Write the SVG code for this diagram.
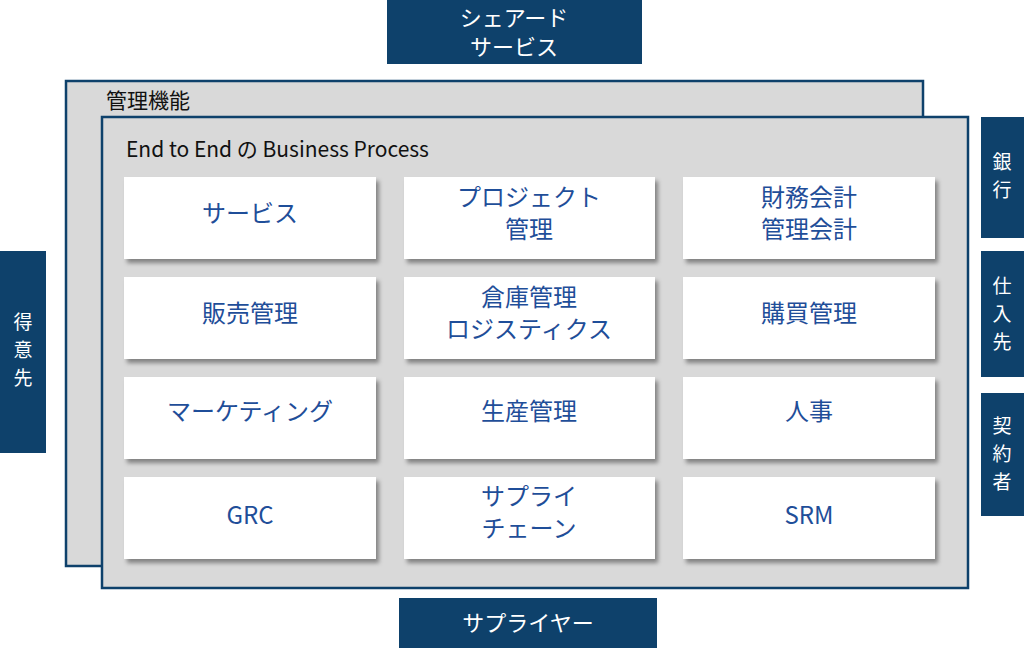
<svg xmlns="http://www.w3.org/2000/svg" width="1024" height="648" viewBox="0 0 1024 648">
<style>
.ext{fill:#0e416b}
.et{fill:#fff;font-family:"Noto Sans CJK JP","Noto Sans",sans-serif;font-size:22px;text-anchor:middle}
.vt{fill:#fff;font-family:"Noto Sans CJK JP","Noto Sans",sans-serif;font-size:19px;text-anchor:middle}
.frame{fill:#d9d9d9;stroke:#0e416b;stroke-width:2.5}
.lbl{fill:#111;font-family:"Noto Sans CJK JP","Noto Sans",sans-serif;font-size:21px}
.card{fill:#fff;filter:url(#sh)}
.ct{fill:#1f4e99;font-family:"Noto Sans CJK JP","Noto Sans",sans-serif;font-size:24px;text-anchor:middle}
</style>
<defs>
<filter id="sh" x="-5%" y="-10%" width="115%" height="130%"><feDropShadow dx="3" dy="4" stdDeviation="2" flood-color="#000" flood-opacity="0.4"/></filter>
</defs>
<rect width="1024" height="648" fill="#fff"/>
<g id="shared"><rect class="ext" x="387" y="0" width="255" height="64"/><text class="et" x="514" y="26">シェアード</text><text class="et" x="514" y="55">サービス</text></g>
<g id="mgmt"><rect class="frame" x="66" y="81" width="857" height="485"/><text class="lbl" x="106" y="108">管理機能</text></g>
<g id="e2e"><rect class="frame" x="102" y="117" width="866" height="471"/><text class="lbl" x="126" y="157" font-size="22">End to End の Business Process</text></g>
<g id="c1"><rect class="card" x="124" y="177" width="252" height="82"/><text class="ct" x="250" y="222">サービス</text></g>
<g id="c2"><rect class="card" x="404" y="177" width="251" height="82"/><text class="ct" x="529" y="206">プロジェクト</text><text class="ct" x="529" y="238">管理</text></g>
<g id="c3"><rect class="card" x="683" y="177" width="252" height="82"/><text class="ct" x="809" y="206">財務会計</text><text class="ct" x="809" y="238">管理会計</text></g>
<g id="c4"><rect class="card" x="124" y="277" width="252" height="82"/><text class="ct" x="250" y="322">販売管理</text></g>
<g id="c5"><rect class="card" x="404" y="277" width="251" height="82"/><text class="ct" x="529" y="306">倉庫管理</text><text class="ct" x="529" y="338">ロジスティクス</text></g>
<g id="c6"><rect class="card" x="683" y="277" width="252" height="82"/><text class="ct" x="809" y="322">購買管理</text></g>
<g id="c7"><rect class="card" x="124" y="377" width="252" height="82"/><text class="ct" x="250" y="420">マーケティング</text></g>
<g id="c8"><rect class="card" x="404" y="377" width="251" height="82"/><text class="ct" x="529" y="420">生産管理</text></g>
<g id="c9"><rect class="card" x="683" y="377" width="252" height="82"/><text class="ct" x="809" y="420">人事</text></g>
<g id="c10"><rect class="card" x="124" y="477" width="252" height="82"/><text class="ct" x="250" y="524">GRC</text></g>
<g id="c11"><rect class="card" x="404" y="477" width="251" height="82"/><text class="ct" x="529" y="505">サプライ</text><text class="ct" x="529" y="537">チェーン</text></g>
<g id="c12"><rect class="card" x="683" y="477" width="252" height="82"/><text class="ct" x="809" y="524">SRM</text></g>
<g id="supplier"><rect class="ext" x="399" y="598" width="258" height="50"/><text class="et" x="528" y="631">サプライヤー</text></g>
<g id="customer"><rect class="ext" x="0" y="251" width="46" height="202"/><text class="vt" x="23" y="329">得</text><text class="vt" x="23" y="357">意</text><text class="vt" x="23" y="385">先</text></g>
<g id="bank"><rect class="ext" x="981" y="117" width="43" height="121"/><text class="vt" x="1002" y="169">銀</text><text class="vt" x="1002" y="197">行</text></g>
<g id="vendor"><rect class="ext" x="981" y="251" width="43" height="126"/><text class="vt" x="1002" y="293">仕</text><text class="vt" x="1002" y="321">入</text><text class="vt" x="1002" y="349">先</text></g>
<g id="contractor"><rect class="ext" x="981" y="393" width="43" height="123"/><text class="vt" x="1002" y="433">契</text><text class="vt" x="1002" y="461">約</text><text class="vt" x="1002" y="489">者</text></g>
<g id="connectors"/>
</svg>
